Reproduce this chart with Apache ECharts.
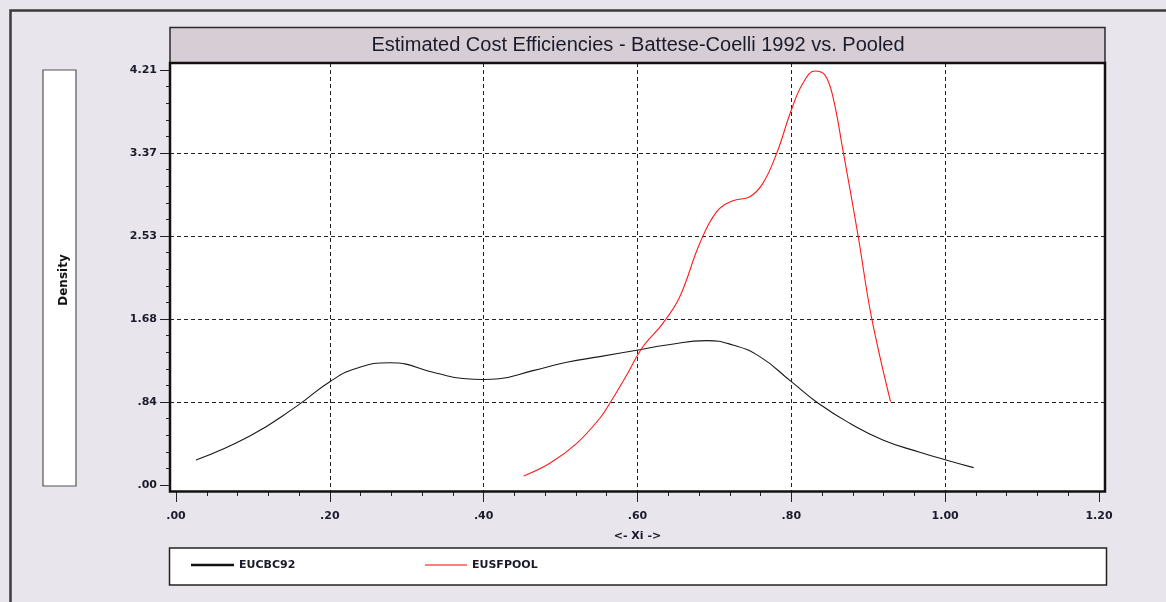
<!DOCTYPE html>
<html>
<head>
<meta charset="utf-8">
<script src="https://cdn.jsdelivr.net/npm/echarts@6/dist/echarts.min.js"></script>
<style>
html,body{margin:0;padding:0;background:#e8e5ec;}
#c{width:1166px;height:602px;}
</style>
</head>
<body>
<div id="c"></div>
<script>
const titleText = 'Estimated Cost Efficiencies - Battese-Coelli 1992 vs. Pooled';
const seriesNames = ['EUCBC92', 'EUSFPOOL'];
const xTickLabels = ['.00', '.20', '.40', '.60', '.80', '1.00', '1.20'];
const yTickLabels = ['.00', '.84', '1.68', '2.53', '3.37', '4.21'];

const ebcX = [0.026, 0.096, 0.157, 0.200, 0.235, 0.278, 0.339, 0.373, 0.40, 0.42, 0.464, 0.508, 0.551, 0.601, 0.638, 0.69, 0.724, 0.759, 0.800, 0.835, 0.876, 0.919, 0.967, 1.001, 1.037];
const ebcY = [0.254, 0.497, 0.80, 1.048, 1.184, 1.24, 1.133, 1.08, 1.07, 1.078, 1.16, 1.245, 1.302, 1.37, 1.42, 1.465, 1.42, 1.302, 1.048, 0.829, 0.626, 0.457, 0.332, 0.254, 0.176];

const poolX = [0.452, 0.486, 0.521, 0.551, 0.564, 0.586, 0.607, 0.633, 0.655, 0.681, 0.703, 0.724, 0.746, 0.763, 0.781, 0.800, 0.815, 0.8305, 0.8435, 0.854, 0.867, 0.887, 0.904, 0.929];
const poolY = [0.091, 0.22, 0.423, 0.677, 0.829, 1.116, 1.403, 1.64, 1.91, 2.452, 2.773, 2.884, 2.925, 3.06, 3.365, 3.804, 4.075, 4.20, 4.16, 3.94, 3.40, 2.52, 1.71, 0.845];

const pairs = (xs, ys) => xs.map((x, i) => [x, ys[i]]);

const chart = echarts.init(document.getElementById('c'), null, {renderer: 'canvas'});
const labelFont = {fontFamily: 'DejaVu Sans', fontWeight: 'bold', fontSize: 11, color: '#1a1a2a'};
const tickStyle = {color: '#222', width: 1};
const gridLine = {show: true, showMinLine: false, showMaxLine: false, lineStyle: {color: '#222', type: [4, 3], width: 1}};

chart.setOption({
  backgroundColor: '#e8e5ec',
  animation: false,
  title: {
    text: titleText,
    left: 638,
    top: 35.5,
    textAlign: 'center',
    padding: 0,
    textStyle: {fontFamily: 'Liberation Sans', fontWeight: 'normal', fontSize: 20, lineHeight: 20, color: '#1a1a2a'}
  },
  grid: [
    {left: 176, right: 67, top: 70, bottom: 117},
    {left: 176, right: 67, top: 63, bottom: 110},
    {left: 170, right: 60, top: 70, bottom: 117}
  ],
  xAxis: [
    {gridIndex: 0, type: 'value', min: 0, max: 1.2, interval: 0.2, show: false, splitLine: {show: false}},
    {
      gridIndex: 1, type: 'value', min: 0, max: 1.2, interval: 0.2,
      name: '<- Xi ->', nameLocation: 'middle', nameGap: 39,
      nameTextStyle: labelFont,
      axisLine: {show: false},
      axisTick: {show: true, length: 10, lineStyle: tickStyle},
      minorTick: {show: true, splitNumber: 5, length: 4, lineStyle: tickStyle},
      axisLabel: Object.assign({margin: 19, formatter: (v, i) => xTickLabels[i]}, labelFont),
      splitLine: gridLine
    },
    {gridIndex: 2, type: 'value', min: 0, max: 1, show: false, splitLine: {show: false}}
  ],
  yAxis: [
    {gridIndex: 0, type: 'value', min: 0, max: 4.21, interval: 0.842, show: false, splitLine: {show: false}},
    {gridIndex: 1, type: 'value', min: 0, max: 1, show: false, splitLine: {show: false}},
    {
      gridIndex: 2, type: 'value', min: 0, max: 4.21, interval: 0.842,
      axisLine: {show: false},
      axisTick: {show: true, length: 10, lineStyle: tickStyle},
      minorTick: {show: true, splitNumber: 5, length: 4, lineStyle: tickStyle},
      axisLabel: Object.assign({margin: 13, formatter: (v, i) => yTickLabels[i]}, labelFont),
      splitLine: gridLine
    }
  ],
  legend: [
    {
      data: [seriesNames[0]], left: 191, top: 558, padding: 0, selectedMode: false,
      icon: 'rect', itemWidth: 43, itemHeight: 2.5, itemGap: 5,
      textStyle: Object.assign({lineHeight: 14}, labelFont)
    },
    {
      data: [seriesNames[1]], left: 425, top: 558, padding: 0, selectedMode: false,
      icon: 'rect', itemWidth: 42, itemHeight: 1, itemGap: 5,
      textStyle: Object.assign({lineHeight: 14}, labelFont)
    }
  ],
  graphic: [
    {type: 'rect', z: -10, silent: true, shape: {x: 10.5, y: 10.5, width: 1300, height: 1300}, style: {fill: 'none', stroke: '#3a3a3a', lineWidth: 2.5}},
    {type: 'rect', z: -10, silent: true, shape: {x: 170, y: 63, width: 935, height: 428}, style: {fill: '#ffffff'}},
    {type: 'rect', z: -10, silent: true, shape: {x: 170, y: 27.5, width: 935, height: 35.5}, style: {fill: '#d6cdd5', stroke: '#2a2a2a', lineWidth: 1.5}},
    {type: 'rect', z: 50, silent: true, shape: {x: 170, y: 63, width: 935, height: 428.5}, style: {fill: 'none', stroke: '#111', lineWidth: 2.5}},
    {type: 'rect', z: -10, silent: true, shape: {x: 43, y: 70, width: 33, height: 416}, style: {fill: '#ffffff', stroke: '#555', lineWidth: 1.2}},
    {type: 'text', z: 10, silent: true, x: 64, y: 280, rotation: Math.PI / 2,
      style: {text: 'Density', align: 'center', verticalAlign: 'middle', font: 'bold 12px "DejaVu Sans"', fill: '#111'}},
    {type: 'rect', z: -10, silent: true, shape: {x: 169.5, y: 548, width: 937, height: 37}, style: {fill: '#ffffff', stroke: '#222', lineWidth: 1.5}}
  ],
  series: [
    {
      name: seriesNames[0], type: 'line', xAxisIndex: 0, yAxisIndex: 0,
      data: pairs(ebcX, ebcY), smooth: 0.5, symbol: 'none',
      color: '#111111', lineStyle: {color: '#1a1a1a', width: 1.1}
    },
    {
      name: seriesNames[1], type: 'line', xAxisIndex: 0, yAxisIndex: 0,
      data: pairs(poolX, poolY), smooth: 0.4, symbol: 'none',
      color: '#ff0000', lineStyle: {color: '#ff1a1a', width: 1.1}
    }
  ]
});
</script>
</body>
</html>
